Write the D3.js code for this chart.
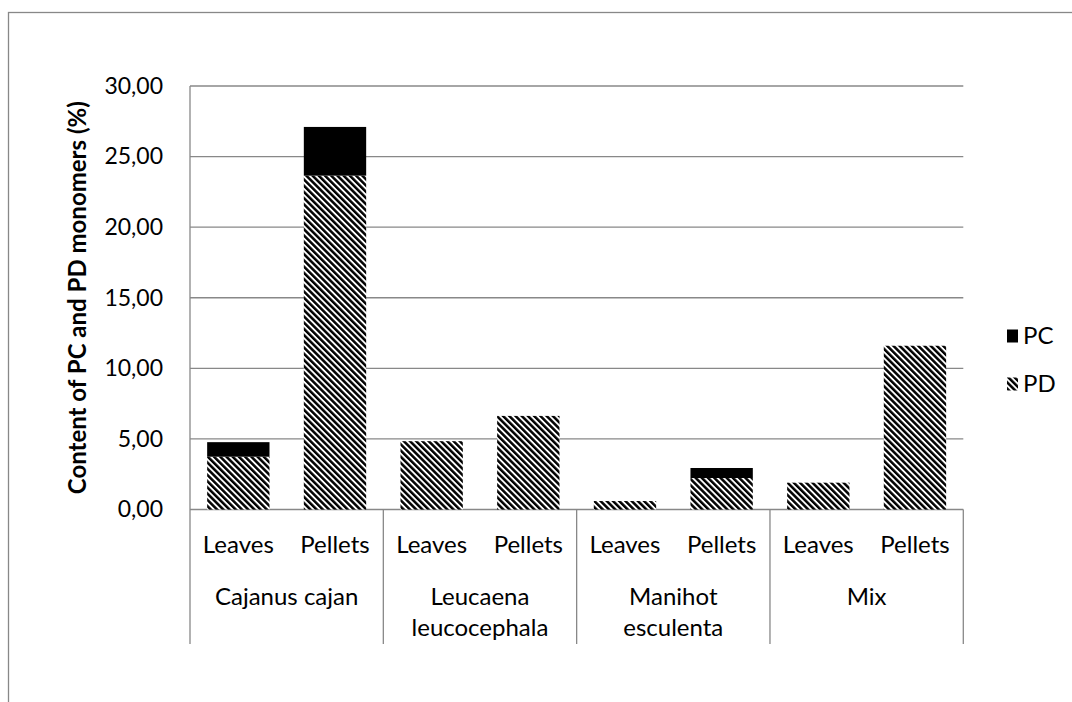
<!DOCTYPE html>
<html>
<head>
<meta charset="utf-8">
<script src="https://cdn.jsdelivr.net/npm/d3@7"></script>
<style>
body { margin: 0; background: #fff; }
text { font-family: Lato, "Open Sans", sans-serif; fill: #000; }
</style>
</head>
<body>
<div id="grafico"></div>
<script>
// datos
var especies = ["Cajanus cajan", "Leucaena leucocephala", "Manihot esculenta", "Mix"];
var partes = ["Leaves", "Pellets"];
var valoresPD = [3.74, 23.65, 4.84, 6.63, 0.6, 2.23, 1.9, 11.6];
var valoresPC = [1.03, 3.45, 0, 0, 0, 0.71, 0, 0];
var yTicks = [0, 5, 10, 15, 20, 25, 30];
var series = ["PC", "PD"];

var W = 1072, H = 702;
var margin = {top: 86, left: 190, right: 1072 - 963.3, bottom: 702 - 509.5};
var width = W - margin.left - margin.right,
	height = H - margin.top - margin.bottom;

// tabla: una fila por barra
var filas = [];
especies.forEach(function(e, i) {
	partes.forEach(function(p, j) {
		var k = i * partes.length + j;
		filas.push({id: k, especie: e, parte: p, PD: valoresPD[k], PC: valoresPC[k]});
	});
});

var svg = d3.select("#grafico").append("svg")
	.attr("width", W)
	.attr("height", H);

// patron rayado
var defs = svg.append("defs");
var pat = defs.append("pattern")
	.attr("id", "rayas")
	.attr("patternUnits", "userSpaceOnUse")
	.attr("width", 4.4)
	.attr("height", 4.4)
	.attr("patternTransform", "rotate(-45)");
pat.append("rect").attr("width", 4.4).attr("height", 4.4).attr("fill", "#fff");
pat.append("rect").attr("width", 2.5).attr("height", 4.4).attr("fill", "#000");

// marco exterior
svg.append("rect")
	.attr("x", 8.5).attr("y", 12.5)
	.attr("width", 1200).attr("height", 800)
	.attr("fill", "none")
	.attr("stroke", "#888")
	.attr("stroke-width", 1.3);

var g = svg.append("g")
	.attr("transform", "translate(" + margin.left + "," + margin.top + ")");

var x = d3.scaleBand()
	.domain(filas.map(function(d) { return d.id; }))
	.range([0, width])
	.paddingInner(0.355)
	.paddingOuter(0.1775);

var y = d3.scaleLinear()
	.domain([0, 30])
	.range([height, 0]);

var color = {PC: "#000", PD: "url(#rayas)"};

// lineas de grilla
g.selectAll(".grid")
	.data(yTicks)
  .enter().append("line")
	.attr("class", "grid")
	.attr("x1", 0).attr("x2", width)
	.attr("y1", function(d) { return y(d); })
	.attr("y2", function(d) { return y(d); })
	.attr("stroke", "#888")
	.attr("stroke-width", 1.3);

// eje y
var yAxis = d3.axisLeft(y)
	.tickValues(yTicks)
	.tickSize(0)
	.tickPadding(27)
	.tickFormat(function(d) { return d3.format(".2f")(d).replace(".", ","); });

g.append("g")
	.attr("class", "y axis")
	.call(yAxis)
	.call(function(a) {
		a.select(".domain").remove();
		a.selectAll("text").style("font-size", "23px").style("font-family", "Lato");
	});

g.append("line")
	.attr("x1", 0).attr("x2", 0)
	.attr("y1", 0).attr("y2", 644 - margin.top)
	.attr("stroke", "#888").attr("stroke-width", 1.3);

// barras apiladas
var stack = d3.stack().keys(["PD", "PC"]);
var capas = stack(filas);

g.selectAll(".layer")
	.data(capas)
  .enter().append("g")
	.attr("class", "layer")
	.attr("fill", function(d) { return color[d.key]; })
  .selectAll("rect")
	.data(function(d) { return d.filter(function(v) { return v[1] - v[0] > 0; }); })
  .enter().append("rect")
	.attr("x", function(d) { return x(d.data.id); })
	.attr("y", function(d) { return y(d[1]); })
	.attr("width", x.bandwidth())
	.attr("height", function(d) { return y(d[0]) - y(d[1]); });

// etiquetas de categorias
var paso = x.step();
g.selectAll(".parte")
	.data(filas)
  .enter().append("text")
	.attr("class", "parte")
	.attr("x", function(d) { return x(d.id) + x.bandwidth() / 2; })
	.attr("y", 545 - margin.top)
	.attr("dy", "0.35em")
	.attr("text-anchor", "middle")
	.style("font-size", "24px")
	.text(function(d) { return d.parte; });

var anchoGrupo = paso * partes.length;
var grupos = g.selectAll(".grupo")
	.data(especies)
  .enter().append("g")
	.attr("class", "grupo")
	.attr("transform", function(d, i) { return "translate(" + (i * anchoGrupo) + ",0)"; });

grupos.append("line")
	.attr("x1", anchoGrupo).attr("x2", anchoGrupo)
	.attr("y1", height).attr("y2", 644 - margin.top)
	.attr("stroke", "#888").attr("stroke-width", 1.3);

grupos.each(function(d) {
	var palabras = d === "Cajanus cajan" ? [d] : d.split(" ");
	var t = d3.select(this).append("text")
		.attr("text-anchor", "middle")
		.style("font-size", "24px");
	palabras.forEach(function(p, k) {
		t.append("tspan")
			.attr("x", anchoGrupo / 2)
			.attr("y", 597 - margin.top + k * 31)
			.attr("dy", "0.35em")
			.text(p);
	});
});

// titulo eje y
svg.append("text")
	.attr("transform", "translate(78," + (margin.top + height / 2) + ") rotate(-90)")
	.attr("text-anchor", "middle")
	.attr("dy", "0.35em")
	.style("font-size", "24px")
	.style("font-weight", "bold")
	.text("Content of PC and PD monomers (%)");

// leyenda
var leyenda = svg.selectAll(".leyenda")
	.data(series)
  .enter().append("g")
	.attr("class", "leyenda")
	.attr("transform", function(d, i) { return "translate(1007," + (336 + i * 48) + ")"; });

leyenda.append("rect")
	.attr("x", 0).attr("y", -6.5)
	.attr("width", 11).attr("height", 13)
	.attr("fill", function(d) { return color[d]; });

leyenda.append("text")
	.attr("x", 16)
	.attr("dy", "0.35em")
	.style("font-size", "24px")
	.text(function(d) { return d; });
</script>
</body>
</html>
